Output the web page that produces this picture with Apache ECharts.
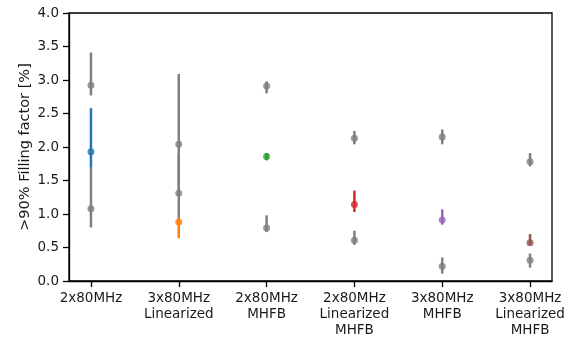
<!DOCTYPE html>
<html>
<head>
<meta charset="utf-8">
<script src="https://cdn.jsdelivr.net/npm/echarts@6/dist/echarts.min.js"></script>
<style>
  html, body { margin: 0; padding: 0; background: #fff; }
  #chart { width: 575px; height: 338px; }
</style>
</head>
<body>
<div id="chart"></div>
<script>
const categories = [
  "2x80MHz",
  "3x80MHz\nLinearized",
  "2x80MHz\nMHFB",
  "2x80MHz\nLinearized\nMHFB",
  "3x80MHz\nMHFB",
  "3x80MHz\nLinearized\nMHFB",
];

// grey reference points (upper and lower), with error bar ends
const greyUpper = [2.92, 2.04, 2.91, 2.13, 2.15, 1.78];
const greyUpperLow = [2.77, 1.30, 2.80, 2.04, 2.04, 1.71];
const greyUpperHigh = [3.41, 3.09, 2.98, 2.24, 2.26, 1.91];

const greyLower = [1.08, 1.31, 0.79, 0.61, 0.22, 0.31];
const greyLowerLow = [0.80, 0.85, 0.73, 0.54, 0.11, 0.20];
const greyLowerHigh = [1.69, 1.90, 0.98, 0.75, 0.35, 0.41];

// coloured main points
const mainValues = [1.93, 0.88, 1.86, 1.14, 0.91, 0.57];
const mainLow = [1.69, 0.64, 1.80, 1.03, 0.84, 0.54];
const mainHigh = [2.58, 0.94, 1.91, 1.35, 1.07, 0.70];
const mainColors = ["#1f77b4", "#ff7f0e", "#2ca02c", "#d62728", "#9467bd", "#8c564b"];

const GREY = "#7f7f7f";
const FONT = "DejaVu Sans";

function errSeries(low, high, colors) {
  return {
    type: "custom",
    data: low.map((lo, i) => [i, lo, high[i]]),
    renderItem: function (params, api) {
      const a = api.coord([api.value(0), api.value(1)]);
      const b = api.coord([api.value(0), api.value(2)]);
      const c = typeof colors === "string" ? colors : colors[params.dataIndex];
      return {
        type: "line",
        shape: { x1: a[0], y1: a[1], x2: b[0], y2: b[1] },
        style: { stroke: c, lineWidth: 2.5 },
      };
    },
    silent: true,
    z: 2,
  };
}

function pointSeries(values, colors, z) {
  return {
    type: "scatter",
    symbol: "circle",
    symbolSize: 7,
    data: values.map((v, i) => ({
      value: [i, v],
      itemStyle: { color: typeof colors === "string" ? colors : colors[i] },
    })),
    z: z,
  };
}

const chart = echarts.init(document.getElementById("chart"));
const idx = categories.map((c, i) => i);

chart.setOption({
  animation: false,
  grid: {
    left: 69, right: 23, top: 13, bottom: 57,
    show: true, borderColor: "#000", borderWidth: 1.3,
  },
  xAxis: {
    type: "value",
    min: -0.25,
    max: 5.25,
    splitLine: { show: false },
    axisLine: { onZero: false, lineStyle: { color: "#000", width: 1.3 } },
    axisTick: { show: true, customValues: idx, length: 6, lineStyle: { color: "#000", width: 1.3 } },
    axisLabel: {
      customValues: idx,
      formatter: (v) => categories[Math.round(v)],
      fontFamily: FONT, fontSize: 13.5, color: "#1a1a1a",
      lineHeight: 16, margin: 9,
    },
  },
  yAxis: {
    type: "value",
    min: 0,
    max: 4,
    interval: 0.5,
    name: ">90% Filling factor [%]",
    nameLocation: "middle",
    nameGap: 36,
    nameMoveOverlap: false,
    nameTextStyle: { fontFamily: FONT, fontSize: 14.5, color: "#1a1a1a" },
    splitLine: { show: false },
    axisLine: { show: true, onZero: false, lineStyle: { color: "#000", width: 1.3 } },
    axisTick: { show: true, length: 6, lineStyle: { color: "#000", width: 1.3 } },
    axisLabel: {
      formatter: (v) => v.toFixed(1),
      fontFamily: FONT, fontSize: 13.5, color: "#1a1a1a", margin: 10,
    },
  },
  series: [
    errSeries(greyUpperLow, greyUpperHigh, GREY),
    errSeries(greyLowerLow, greyLowerHigh, GREY),
    pointSeries(greyUpper, GREY, 3),
    pointSeries(greyLower, GREY, 3),
    Object.assign(errSeries(mainLow, mainHigh, mainColors), { z: 4 }),
    pointSeries(mainValues, mainColors, 5),
  ],
});
</script>
</body>
</html>
